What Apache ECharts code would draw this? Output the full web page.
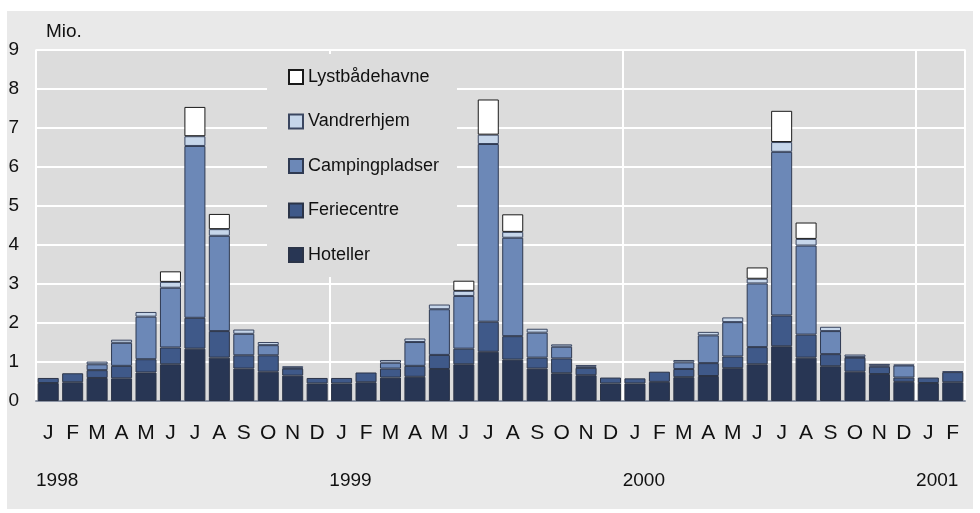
<!DOCTYPE html>
<html>
<head>
<meta charset="utf-8">
<script src="https://cdn.jsdelivr.net/npm/echarts@6/dist/echarts.min.js"></script>
<style>
html,body{margin:0;padding:0;background:#ffffff;}
#bg{position:absolute;left:7px;top:11px;width:966px;height:498px;background:#e9e9e9;}
#chart{position:absolute;left:0;top:0;width:980px;height:513px;}
</style>
</head>
<body>
<div id="bg"></div>
<div id="chart"></div>
<script>
const months = ['J','F','M','A','M','J','J','A','S','O','N','D',
                'J','F','M','A','M','J','J','A','S','O','N','D',
                'J','F','M','A','M','J','J','A','S','O','N','D',
                'J','F'];
const years = ['1998','1999','2000','2001'];
const yTicks = [0,1,2,3,4,5,6,7,8,9];

const hoteller = [0.46,0.48,0.59,0.58,0.73,0.94,1.34,1.11,0.83,0.75,0.65,0.45,
                  0.45,0.48,0.60,0.62,0.82,0.94,1.26,1.06,0.83,0.71,0.66,0.45,
                  0.45,0.49,0.61,0.64,0.84,0.94,1.40,1.11,0.89,0.75,0.69,0.49,
                  0.46,0.48];
const feriecentre = [0.13,0.23,0.20,0.32,0.34,0.43,0.79,0.68,0.34,0.42,0.18,0.14,
                     0.14,0.25,0.23,0.28,0.36,0.40,0.77,0.60,0.28,0.38,0.19,0.15,
                     0.13,0.26,0.21,0.33,0.30,0.44,0.79,0.59,0.31,0.36,0.19,0.11,
                     0.14,0.26];
const campingpladser = [null,null,0.15,0.59,1.09,1.53,4.40,2.44,0.55,0.26,0.02,null,
                        null,null,0.15,0.61,1.17,1.35,4.55,2.52,0.64,0.30,0.03,null,
                        null,null,0.17,0.71,0.88,1.63,4.19,2.28,0.59,0.02,0.03,0.31,
                        null,null];
const vandrerhjem = [null,null,0.07,0.08,0.12,0.15,0.25,0.17,0.11,0.08,0.04,null,
                     null,null,0.07,0.09,0.12,0.13,0.24,0.15,0.10,0.06,0.04,null,
                     null,null,0.06,0.09,0.12,0.12,0.25,0.17,0.11,0.06,0.04,0.02,
                     null,0.02];
const lystbaadehavne = [null,null,null,null,null,0.27,0.75,0.39,null,null,null,null,
                        null,null,null,null,null,0.26,0.90,0.45,null,null,null,null,
                        null,null,null,null,null,0.29,0.80,0.42,null,null,null,null,
                        null,null];

const FONT = '"Liberation Sans",Arial,sans-serif';
const chart = echarts.init(document.getElementById('chart'), null, {renderer:'canvas'});

function bar(name, data, color, border) {
  return {
    name: name, type: 'bar', stack: 'total', data: data,
    xAxisIndex: 0,
    barCategoryGap: '14%',
    itemStyle: {color: color, borderColor: border, borderWidth: 1},
    emphasis: {disabled: true}
  };
}

const option = {
  backgroundColor: 'transparent',
  animation: false,
  textStyle: {fontFamily: FONT},
  grid: {left: 36, right: 15, top: 49.5, bottom: 112, show: true,
         backgroundColor: '#dcdcdc', borderWidth: 0},
  legend: {
    data: ['Lystbådehavne','Vandrerhjem','Campingpladser','Feriecentre','Hoteller'],
    orient: 'vertical', left: 288, top: 68, padding: 0,
    itemWidth: 14, itemHeight: 14, itemGap: 26.5,
    icon: 'rect',
    textStyle: {fontFamily: FONT, fontSize: 18, color: '#111'},
    selectedMode: false
  },
  xAxis: [{
    type: 'category', data: months, boundaryGap: true,
    axisLine: {show: true, lineStyle: {color: '#8e96a6', width: 2}},
    axisTick: {show: false},
    axisLabel: {interval: 0, margin: 22, fontSize: 21, color: '#111', fontFamily: FONT},
    splitLine: {show: true, interval: function (i) { return i % 12 === 0; },
                lineStyle: {color: '#ffffff', width: 2}}
  }, {
    type: 'value', min: 0, max: months.length, interval: 12, position: 'bottom',
    axisLine: {show: false}, axisTick: {show: false}, splitLine: {show: false},
    axisLabel: {
      showMaxLabel: false,
      margin: 70, fontSize: 19, color: '#111', fontFamily: FONT, align: 'left',
      formatter: function (v) { return years[Math.round(v / 12)] || ''; }
    }
  }],
  yAxis: {
    type: 'value', min: yTicks[0], max: yTicks[yTicks.length - 1], interval: 1,
    axisLine: {show: false}, axisTick: {show: false},
    axisLabel: {margin: 17, fontSize: 19, color: '#111', fontFamily: FONT},
    splitLine: {show: true, lineStyle: {color: '#ffffff', width: 2}}
  },
  graphic: [
    {type: 'text', left: 46, top: 22,
     style: {text: 'Mio.', font: '19px ' + FONT, fill: '#111'}},
    {type: 'rect', z: 3, shape: {x: 267, y: 54, width: 190, height: 223},
     style: {fill: '#dcdcdc'}}
  ],
  series: [
    bar('Hoteller', hoteller, '#283654', '#2b3448'),
    bar('Feriecentre', feriecentre, '#3f5989', '#2b3448'),
    bar('Campingpladser', campingpladser, '#6c88b7', '#2f3a52'),
    bar('Vandrerhjem', vandrerhjem, '#c6d6ea', '#3a4660'),
    bar('Lystbådehavne', lystbaadehavne, '#ffffff', '#1a1a1a')
  ]
};
chart.setOption(option);
</script>
</body>
</html>
